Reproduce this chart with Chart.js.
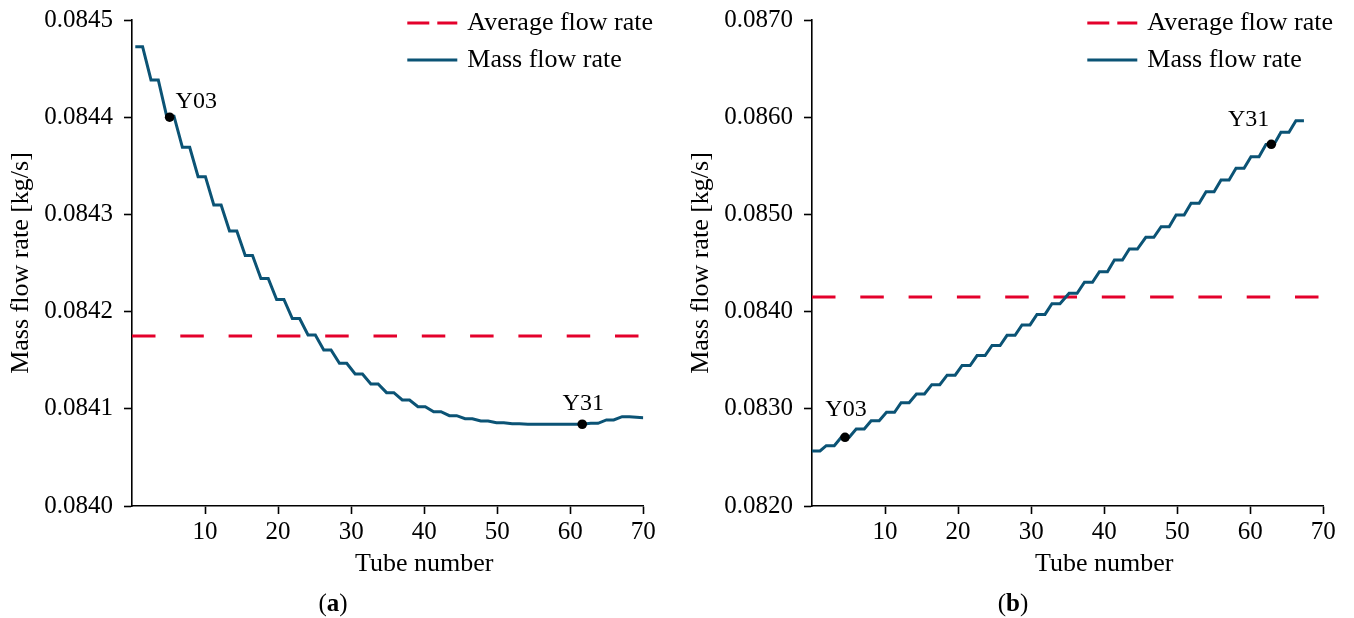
<!DOCTYPE html>
<html>
<head>
<meta charset="utf-8">
<script src="https://cdn.jsdelivr.net/npm/chart.js@4"></script>
<style>
html,body{margin:0;padding:0;background:#fff;overflow:hidden;width:1354px;height:618px;}
.panel{position:absolute;top:0;width:680px;height:618px;}
.cap{position:absolute;top:589px;width:100px;text-align:center;font-family:'Liberation Serif','Times New Roman',serif;font-size:25px;line-height:28px;color:#000;}
</style>
</head>
<body>
<div class="panel" style="left:0"><canvas id="ca" width="680" height="618"></canvas></div>
<div class="panel" style="left:680px"><canvas id="cb" width="680" height="618"></canvas></div>
<div class="cap" style="left:283px">(<b>a</b>)</div>
<div class="cap" style="left:963px">(<b>b</b>)</div>
<script>
// ---------- data ----------
const xTickValues = [10, 20, 30, 40, 50, 60, 70];
const xRange = [0, 70];

// panel (a)
const aYTicks = [0.0840, 0.0841, 0.0842, 0.0843, 0.0844, 0.0845];
const aAverage = 0.084175;
const aStepStart = [0.45, 2.60, 4.75, 6.90, 9.05, 11.20, 13.35, 15.50, 17.65, 19.80, 21.95, 24.10, 26.25, 28.40, 30.55, 32.70,
  34.85, 37.00, 39.15, 41.30, 43.45, 45.60, 47.75, 49.90, 52.05, 54.20, 56.35, 58.50, 60.65, 62.80, 64.95, 67.10];
const aStepValue = [0.0844725, 0.0844383, 0.0844010, 0.0843690, 0.0843388, 0.0843097, 0.0842829, 0.0842577, 0.0842341,
  0.0842125, 0.0841929, 0.0841759, 0.0841605, 0.0841468, 0.0841358, 0.0841255, 0.0841166, 0.0841091, 0.0841022,
  0.0840970, 0.0840929, 0.0840898, 0.0840874, 0.0840857, 0.0840847, 0.0840842, 0.0840841, 0.0840841, 0.0840841,
  0.0840851, 0.0840885, 0.0840919];
const aTailX = [70.0];
const aTailY = [0.0840909];
const aMarkerNames = ['Y03', 'Y31'];
const aMarkerX = [5.15, 61.64];
const aMarkerY = [0.08440, 0.0840841];

// panel (b)
const bYTicks = [0.0820, 0.0830, 0.0840, 0.0850, 0.0860, 0.0870];
const bAverage = 0.084150;
const bStepStart = [0.00, 1.95, 4.00, 6.05, 8.10, 10.20, 12.20, 14.30, 16.40, 18.50, 20.55, 22.60, 24.65, 26.70, 28.75,
  30.80, 32.85, 35.20, 37.30, 39.35, 41.40, 43.45, 45.70, 47.80, 49.85, 51.90, 53.95, 56.00, 58.05, 60.10, 62.15, 64.20, 66.25];
const bStepValue = [0.0825659, 0.0826204, 0.0827068, 0.0827922, 0.0828776, 0.0829640, 0.0830628, 0.0831523, 0.0832480,
  0.0833457, 0.0834455, 0.0835474, 0.0836513, 0.0837562, 0.0838632, 0.0839712, 0.0840803, 0.0841883, 0.0843015,
  0.0844105, 0.0845309, 0.0846440, 0.0847644, 0.0848735, 0.0849938, 0.0851142, 0.0852335, 0.0853539, 0.0854743,
  0.0855936, 0.0857191, 0.0858447, 0.0859640];
const bTailX = [];
const bTailY = [];
const bMarkerNames = ['Y03', 'Y31'];
const bMarkerX = [4.52, 62.88];
const bMarkerY = [0.082707, 0.0857212];

// ---------- styling ----------
const FONT = "'Liberation Serif', 'Times New Roman', serif";
const FS = 25;      // tick labels
const FS_P = 24;    // point labels
const FS_T = 26;    // titles and legend
const RED = '#e4002b';
const BLUE = '#0b5375';
Chart.defaults.color = '#000';
Chart.defaults.font.family = FONT;
Chart.defaults.font.size = FS;

function stairs(starts, values, width, tailX, tailY) {
  const pts = [];
  starts.forEach((s, i) => { pts.push({x: s, y: values[i]}); pts.push({x: s + width, y: values[i]}); });
  tailX.forEach((x, i) => pts.push({x: x, y: tailY[i]}));
  return pts;
}

const legendPlugin = {
  id: 'cornerLegend',
  afterDraw(chart) {
    const {ctx, chartArea} = chart;
    const items = chart.data.datasets.filter(d => !d.noLegend);
    items.forEach((d, i) => {
      const y = chartArea.top + 3 + i * 37;
      const x0 = chartArea.right - 236;
      ctx.save();
      ctx.strokeStyle = d.borderColor;
      ctx.lineWidth = d.borderWidth;
      ctx.setLineDash(d.legendDash || []);
      ctx.beginPath(); ctx.moveTo(x0, y); ctx.lineTo(x0 + 50, y); ctx.stroke();
      ctx.setLineDash([]);
      ctx.fillStyle = '#000';
      ctx.font = FS_T + 'px ' + FONT;
      ctx.textAlign = 'left';
      ctx.textBaseline = 'middle';
      ctx.fillText(d.label, x0 + 60, y);
      ctx.restore();
    });
  }
};

const markerLabelPlugin = {
  id: 'markerLabels',
  afterDatasetsDraw(chart, args, opts) {
    const {ctx} = chart;
    const xs = chart.scales.x, ys = chart.scales.y;
    ctx.save();
    ctx.fillStyle = '#000';
    ctx.font = FS_P + 'px ' + FONT;
    ctx.textBaseline = 'alphabetic';
    opts.names.forEach((n, i) => {
      const px = xs.getPixelForValue(opts.xs[i]);
      const py = ys.getPixelForValue(opts.ys[i]);
      const o = opts.offsets[i];
      ctx.textAlign = o.align;
      ctx.fillText(n, px + o.dx, py + o.dy);
    });
    ctx.restore();
  }
};

const xTitlePlugin = {
  id: 'xTitle',
  afterDraw(chart, args, opts) {
    const {ctx, chartArea} = chart;
    const px = chart.scales.x.getPixelForValue(opts.at);
    ctx.save();
    ctx.fillStyle = '#000';
    ctx.font = FS_T + 'px ' + FONT;
    ctx.textAlign = 'center';
    ctx.textBaseline = 'middle';
    ctx.fillText(opts.text, px, chartArea.bottom + 58);
    ctx.restore();
  }
};

function makeChart(id, p) {
  return new Chart(document.getElementById(id), {
    type: 'line',
    data: {
      datasets: [
        {label: 'Average flow rate', data: [{x: xRange[0], y: p.avg}, {x: xRange[1], y: p.avg}],
          borderColor: RED, borderWidth: 3, borderDash: [23.5, 24.8], legendDash: [22, 8], pointRadius: 0, order: 2},
        {label: 'Mass flow rate', data: stairs(p.starts, p.values, p.width, p.tailX, p.tailY),
          borderColor: BLUE, borderWidth: 3, pointRadius: 0, order: 1, tension: 0},
        {label: 'markers', noLegend: true, data: p.mx.map((x, i) => ({x: x, y: p.my[i]})), showLine: false,
          pointRadius: 4.8, pointBackgroundColor: '#000', pointBorderWidth: 0, order: 0}
      ]
    },
    options: {
      responsive: false, animation: false, events: [],
      layout: {padding: {top: 20, right: 36.7, left: 0, bottom: 0}},
      plugins: {
        legend: {display: false}, tooltip: {enabled: false},
        markerLabels: {names: p.names, xs: p.mx, ys: p.my, offsets: p.offsets},
        xTitle: {text: 'Tube number', at: 40}
      },
      scales: {
        x: {
          type: 'linear', min: xRange[0], max: xRange[1],
          afterBuildTicks: s => { s.ticks = xTickValues.map(v => ({value: v})); },
          afterFit: s => { s.height = 112; s.paddingLeft = 0; s.paddingRight = 0; },
          grid: {drawOnChartArea: false, drawTicks: true, tickLength: 8, tickWidth: 1.6, tickColor: '#000'},
          border: {display: true, color: '#000', width: 1.6},
          ticks: {padding: 3, color: '#000', maxRotation: 0, autoSkip: false, callback: v => String(v)}
        },
        y: {
          type: 'linear', min: p.yTicks[0], max: p.yTicks[p.yTicks.length - 1],
          afterBuildTicks: s => { s.ticks = p.yTicks.map(v => ({value: v})); },
          afterFit: s => { s.width = 132; s.paddingTop = 0; s.paddingBottom = 0; },
          grid: {drawOnChartArea: false, drawTicks: true, tickLength: 8, tickWidth: 1.6, tickColor: '#000'},
          border: {display: true, color: '#000', width: 1.6},
          ticks: {padding: 11, color: '#000', autoSkip: false, callback: v => Number(v).toFixed(4)},
          title: {display: true, text: 'Mass flow rate [kg/s]', color: '#000', font: {size: FS_T}, padding: {top: 6, bottom: 0}}
        }
      }
    },
    plugins: [legendPlugin, markerLabelPlugin, xTitlePlugin]
  });
}

makeChart('ca', {
  avg: aAverage, starts: aStepStart, values: aStepValue, width: 1.0, tailX: aTailX, tailY: aTailY,
  mx: aMarkerX, my: aMarkerY, names: aMarkerNames, yTicks: aYTicks,
  offsets: [{dx: 6, dy: -9, align: 'left'}, {dx: 1, dy: -14, align: 'center'}]
});
makeChart('cb', {
  avg: bAverage, starts: bStepStart, values: bStepValue, width: 1.1, tailX: bTailX, tailY: bTailY,
  mx: bMarkerX, my: bMarkerY, names: bMarkerNames, yTicks: bYTicks,
  offsets: [{dx: 1, dy: -21, align: 'center'}, {dx: -2, dy: -18, align: 'right'}]
});
</script>
</body>
</html>
